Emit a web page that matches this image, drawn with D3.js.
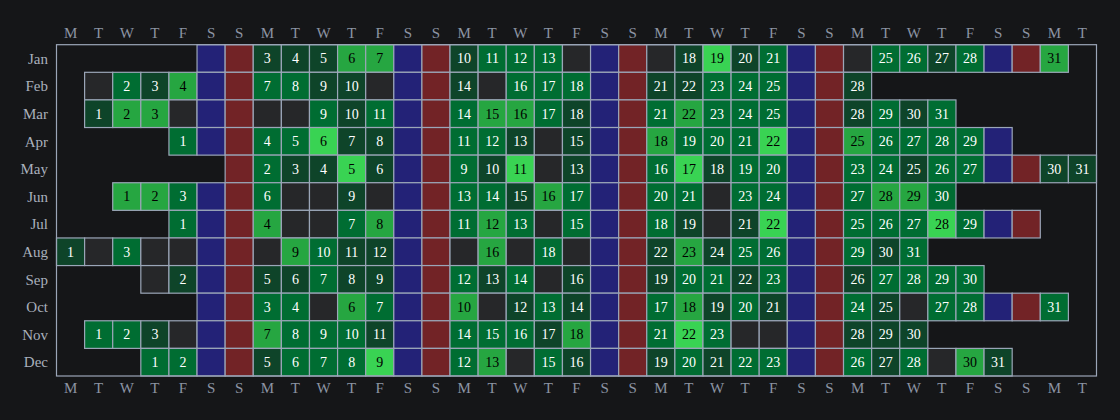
<!DOCTYPE html>
<html>
<head>
<meta charset="utf-8">
<script src="https://cdn.jsdelivr.net/npm/d3@7"></script>
<style>
    html, body { margin: 0; padding: 0; background: #151618; }
    svg { display: block; }
</style>
</head>
<body>
<svg id="chart" width="1120" height="420"></svg>
<script>
// year shown in the calendar
const year = 2022;

const monthLabels = ['Jan', 'Feb', 'Mar', 'Apr', 'May', 'Jun', 'Jul', 'Aug', 'Sep', 'Oct', 'Nov', 'Dec'];
const weekdayLabels = ['M', 'T', 'W', 'T', 'F', 'S', 'S'];

// activity level per day (0 = nothing, 1..4 = increasing)
const jan = [0, 0, 1, 1, 1, 3, 3, 0, 0, 1, 2, 2, 2, 0, 0, 0, 0, 1, 4, 1, 2, 0, 0, 0, 2, 2, 1, 2, 0, 0, 3];
const feb = [0, 2, 1, 3, 0, 0, 2, 2, 1, 1, 0, 0, 0, 1, 0, 2, 2, 2, 0, 0, 1, 1, 2, 2, 2, 0, 0, 1];
const mar = [1, 3, 3, 0, 0, 0, 0, 0, 2, 1, 2, 0, 0, 2, 3, 3, 2, 1, 0, 0, 2, 3, 2, 2, 2, 0, 0, 1, 2, 1, 2];
const apr = [2, 0, 0, 2, 2, 4, 1, 1, 0, 0, 2, 2, 1, 0, 1, 0, 0, 3, 2, 2, 2, 4, 0, 0, 3, 2, 2, 2, 2, 0];
const may = [0, 2, 1, 1, 4, 1, 0, 0, 2, 1, 4, 0, 1, 0, 0, 2, 4, 1, 2, 2, 0, 0, 2, 2, 1, 2, 2, 0, 0, 1, 1];
const jun = [3, 3, 2, 0, 0, 2, 0, 0, 1, 0, 0, 0, 2, 2, 1, 3, 2, 0, 0, 2, 2, 0, 2, 2, 0, 0, 2, 3, 3, 2];
const jul = [2, 0, 0, 3, 0, 0, 2, 3, 0, 0, 2, 3, 2, 0, 2, 0, 0, 2, 1, 0, 1, 4, 0, 0, 2, 2, 2, 4, 2, 0, 0];
const aug = [1, 0, 2, 0, 0, 0, 0, 0, 3, 2, 1, 1, 0, 0, 0, 3, 0, 2, 0, 0, 0, 1, 3, 1, 2, 2, 0, 0, 2, 1, 2];
const sep = [0, 1, 0, 0, 1, 1, 2, 1, 1, 0, 0, 2, 1, 2, 0, 1, 0, 0, 1, 2, 2, 1, 2, 0, 0, 1, 2, 2, 2, 2];
const oct = [0, 0, 2, 2, 0, 3, 2, 0, 0, 3, 0, 1, 2, 1, 0, 0, 2, 3, 1, 2, 1, 0, 0, 2, 1, 0, 2, 2, 0, 0, 2];
const nov = [2, 2, 1, 0, 0, 0, 3, 2, 2, 2, 1, 0, 0, 2, 2, 2, 1, 3, 0, 0, 2, 4, 2, 0, 0, 0, 0, 1, 1, 1];
const dec = [2, 2, 0, 0, 1, 2, 2, 2, 4, 0, 0, 2, 3, 0, 2, 1, 0, 0, 1, 2, 1, 2, 2, 0, 0, 2, 1, 2, 0, 3, 1];

const levels = [jan, feb, mar, apr, may, jun, jul, aug, sep, oct, nov, dec];

const NCOLS = 37;

const levelColors = ['#262729', '#0e4429', '#006d32', '#26a641', '#39d353'];
const satColor = '#232277';
const sunColor = '#722326';
const gridColor = '#9ba6b8';
const serif = '"Liberation Serif", "DejaVu Serif", serif';

const svg = d3.select('#chart');
const gridLeft = 56.5;
const gridRight = 1096.5;
const gridTop = 44.7;
const gridBottom = 376;

const x = d3.scaleBand().domain(d3.range(NCOLS)).range([gridLeft, gridRight]);
const y = d3.scaleBand().domain(monthLabels).range([gridTop, gridBottom]);

// build one record per day
const days = [];
levels.forEach((vals, m) =>
{
    const first = new Date(year, m, 1);
    const offset = (first.getDay() + 6) % 7; // monday = 0
    vals.forEach((v, i) =>
    {
        const col = offset + i;
        days.push({
            month: monthLabels[m],
            day: i + 1,
            col,
            weekday: col % 7,
            level: v,
        });
    });
});

function fillFor(d)
{
    if (d.level > 0) return levelColors[d.level];
    if (d.weekday === 5) return satColor;
    if (d.weekday === 6) return sunColor;
    return levelColors[0];
}

svg.append('g')
    .selectAll('rect')
    .data(days)
    .join('rect')
    .attr('x', (d) => x(d.col))
    .attr('y', (d) => y(d.month))
    .attr('width', x.bandwidth())
    .attr('height', y.bandwidth())
    .attr('fill', fillFor)
    .attr('stroke', gridColor)
    .attr('stroke-width', 1.2);

svg.append('g')
    .selectAll('text')
    .data(days.filter((d) => d.level > 0))
    .join('text')
    .attr('x', (d) => x(d.col) + x.bandwidth() / 2)
    .attr('y', (d) => y(d.month) + y.bandwidth() / 2)
    .attr('dy', '0.35em')
    .attr('text-anchor', 'middle')
    .attr('font-family', serif)
    .attr('font-size', 14)
    .attr('fill', (d) => (d.level >= 3 ? '#000000' : '#ffffff'))
    .text((d) => d.day);

// outer frame
svg.append('rect')
    .attr('x', gridLeft)
    .attr('y', gridTop)
    .attr('width', gridRight - gridLeft)
    .attr('height', gridBottom - gridTop)
    .attr('fill', 'none')
    .attr('stroke', gridColor)
    .attr('stroke-width', 1.2);

// month labels
svg.append('g')
    .selectAll('text')
    .data(monthLabels)
    .join('text')
    .attr('x', 48)
    .attr('y', (d) => y(d) + y.bandwidth() / 2)
    .attr('dy', '0.35em')
    .attr('text-anchor', 'end')
    .attr('font-family', serif)
    .attr('font-size', 15)
    .attr('fill', '#a9b0bc')
    .text((d) => d);

// weekday letters above and below
const cols = d3.range(NCOLS);
[33, 388].forEach((yy) =>
{
    svg.append('g')
        .selectAll('text')
        .data(cols)
        .join('text')
        .attr('x', (c) => x(c) + x.bandwidth() / 2)
        .attr('y', yy)
        .attr('dy', '0.35em')
        .attr('text-anchor', 'middle')
        .attr('font-family', serif)
        .attr('font-size', 15)
        .attr('fill', '#8c94a3')
        .text((c) => weekdayLabels[c % 7]);
});
</script>
</body>
</html>
